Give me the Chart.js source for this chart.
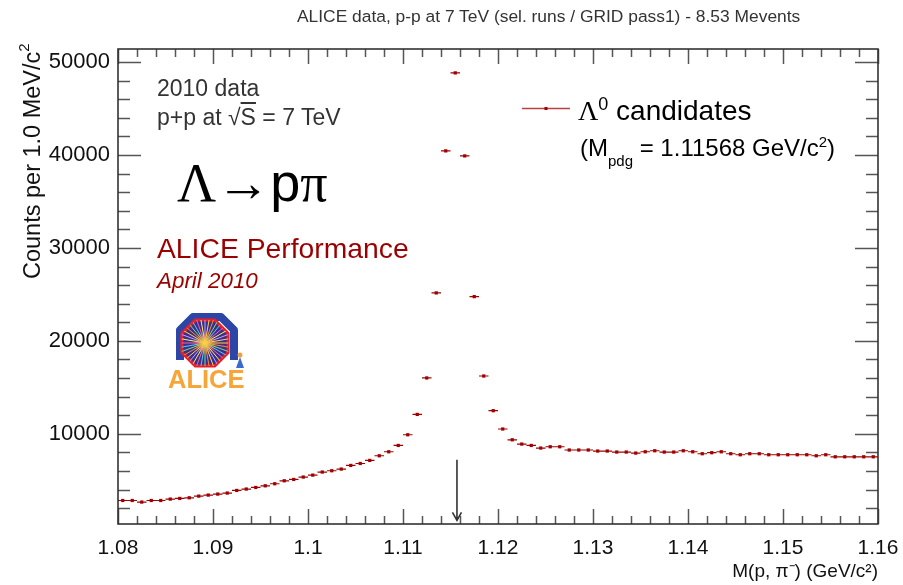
<!DOCTYPE html>
<html><head><meta charset="utf-8">
<script src="https://cdn.jsdelivr.net/npm/chart.js@4.4.1/dist/chart.umd.min.js"></script>
<style>
html,body{margin:0;padding:0;background:#fff;}
#wrap{position:relative;width:903px;height:585px;overflow:hidden;font-family:"Liberation Sans",Arial,sans-serif;}
#c{position:absolute;left:0;top:0;}
.t{position:absolute;white-space:nowrap;line-height:1;}
.ser{font-family:"Liberation Serif","DejaVu Serif",serif;}
sup,sub{line-height:0;}
</style></head><body>
<div id="wrap">
<canvas id="c" width="903" height="585"></canvas>
<div class="t" style="left:297px;top:8px;font-size:17.4px;color:#333">ALICE data, p-p at 7 TeV (sel. runs / GRID pass1) - 8.53 Mevents</div>
<div class="t" style="left:21px;top:279px;font-size:23.5px;color:#111;transform-origin:left top;transform:rotate(-90deg)">Counts per 1.0 MeV/c<sup style="font-size:15px;position:relative;top:-2px">2</sup></div>
<div class="t" style="left:157px;top:77px;font-size:23px;color:#333">2010 data</div>
<div class="t" style="left:157px;top:106px;font-size:23px;color:#333">p+p at √<span style="text-decoration:overline">S</span> = 7 TeV</div>
<div class="t" style="left:177px;top:155px;font-size:54px;color:#000"><span class="ser">Λ→</span>p<span class="ser">π</span></div>
<div class="t" style="left:157px;top:234px;font-size:28.3px;color:#9b0000">ALICE Performance</div>
<div class="t" style="left:157px;top:270px;font-size:22.4px;color:#9b0000;font-style:italic">April 2010</div>
<div class="t" style="left:168px;top:367px;font-size:25.5px;color:#f7a539;font-weight:bold">ALICE</div>
<div class="t" style="left:578px;top:97px;font-size:28px;color:#000"><span class="ser">Λ</span><sup style="font-size:18px">0</sup> candidates</div>
<div class="t" style="left:580px;top:136px;font-size:24px;color:#000">(M<sub style="font-size:15px;position:relative;top:10px;vertical-align:baseline">pdg</sub> = 1.11568 GeV/c<sup style="font-size:15px">2</sup>)</div>
</div>
<script>
// ---- data ----
const massBins = [
 1.0805,1.0815,1.0825,1.0835,1.0845,1.0855,1.0865,1.0875,1.0885,1.0895,
 1.0905,1.0915,1.0925,1.0935,1.0945,1.0955,1.0965,1.0975,1.0985,1.0995,
 1.1005,1.1015,1.1025,1.1035,1.1045,1.1055,1.1065,1.1075,1.1085,1.1095,
 1.1105,1.1115,1.1125,1.1135,1.1145,1.1155,1.1165,1.1175,1.1185,1.1195,
 1.1205,1.1215,1.1225,1.1235,1.1245,1.1255,1.1265,1.1275,1.1285,1.1295,
 1.1305,1.1315,1.1325,1.1335,1.1345,1.1355,1.1365,1.1375,1.1385,1.1395,
 1.1405,1.1415,1.1425,1.1435,1.1445,1.1455,1.1465,1.1475,1.1485,1.1495,
 1.1505,1.1515,1.1525,1.1535,1.1545,1.1555,1.1565,1.1575,1.1585,1.1595
];
const counts = [
 2830,2830,2660,2830,2830,2980,3050,3120,3300,3410,
 3520,3630,3910,4060,4230,4410,4630,4950,5090,5350,
 5560,5890,6030,6210,6600,6810,7140,7640,8070,8750,
 9900,12090,16010,25160,40440,48830,39900,24760,16220,12490,
 10520,9360,8900,8750,8470,8610,8610,8260,8260,8260,
 8150,8150,8040,8040,7930,8070,8180,8040,8040,8180,
 8070,7860,7970,8070,7860,7750,7860,7860,7750,7750,
 7750,7750,7750,7640,7750,7530,7530,7530,7530,7530
];
const binHalfWidth = 0.0005;
const pdgMass = 1.11568;
const arrowFrom = 7200, arrowTo = 700;
const xTickValues = [1.08,1.09,1.10,1.11,1.12,1.13,1.14,1.15,1.16];
const xTickLabels = ["1.08","1.09","1.1","1.11","1.12","1.13","1.14","1.15","1.16"];
const yTickValues = [10000,20000,30000,40000,50000];
const yTickLabels = ["10000","20000","30000","40000","50000"];
const xMin = 1.08, xMax = 1.16, yMin = 300, yMax = 51400;
const xMinorStep = 0.002, yMinorStep = 2000;

const RED = '#a00000';

const rootFrame = {
  id: 'rootFrame',
  beforeDatasetsDraw(chart) {
    const {ctx, chartArea: a, scales: {x, y}} = chart;
    ctx.save();
    ctx.strokeStyle = '#555';
    ctx.lineWidth = 1.5;
    ctx.beginPath();
    const nx = Math.round((xMax - xMin) / xMinorStep);
    for (let i = 0; i <= nx; i++) {
      const v = xMin + i * xMinorStep;
      const px = Math.round(x.getPixelForValue(v)) + 0.5;
      const major = xTickValues.some(t => Math.abs(t - v) < 1e-9);
      const len = major ? 15 : 8;
      ctx.moveTo(px, a.bottom); ctx.lineTo(px, a.bottom - len);
      ctx.moveTo(px, a.top); ctx.lineTo(px, a.top + len);
    }
    for (let v = yMinorStep; v <= yMax; v += yMinorStep) {
      if (v < yMin) continue;
      const py = Math.round(y.getPixelForValue(v)) + 0.5;
      const major = yTickValues.includes(v);
      const len = major ? 23 : 12;
      ctx.moveTo(a.left, py); ctx.lineTo(a.left + len, py);
      ctx.moveTo(a.right, py); ctx.lineTo(a.right - len, py);
    }
    ctx.stroke();
    ctx.strokeStyle = '#333';
    ctx.lineWidth = 1.6;
    ctx.strokeRect(a.left, a.top, a.right - a.left, a.bottom - a.top);
    ctx.restore();
  },
  afterDatasetsDraw(chart) {
    const {ctx, scales: {x, y}} = chart;
    ctx.save();
    ctx.strokeStyle = RED;
    ctx.lineWidth = 1.2;
    ctx.beginPath();
    massBins.forEach((m, i) => {
      const py = y.getPixelForValue(counts[i]);
      ctx.moveTo(x.getPixelForValue(m - binHalfWidth), py);
      ctx.lineTo(x.getPixelForValue(m + binHalfWidth), py);
    });
    ctx.stroke();
    const ax = x.getPixelForValue(pdgMass);
    const y1 = y.getPixelForValue(arrowFrom), y2 = y.getPixelForValue(arrowTo);
    ctx.strokeStyle = '#333';
    ctx.lineWidth = 1.6;
    ctx.beginPath();
    ctx.moveTo(ax, y1); ctx.lineTo(ax, y2);
    ctx.moveTo(ax - 4.5, y2 - 8); ctx.lineTo(ax, y2); ctx.lineTo(ax + 4.5, y2 - 8);
    ctx.stroke();
    ctx.strokeStyle = '#b84040';
    ctx.lineWidth = 1.5;
    ctx.beginPath(); ctx.moveTo(522, 108.5); ctx.lineTo(570, 108.5); ctx.stroke();
    ctx.fillStyle = RED; ctx.fillRect(544.5, 107, 3, 3);
    drawLogo(ctx);
    ctx.restore();
  }
};

function drawLogo(ctx) {
  const cx = 205, cy = 343;
  ctx.save();
  ctx.strokeStyle = '#2c46a8';
  ctx.lineWidth = 8;
  ctx.lineJoin = 'round';
  ctx.beginPath();
  ctx.moveTo(180, 360); ctx.lineTo(180, 330); ctx.lineTo(193, 317); ctx.lineTo(221, 317); ctx.lineTo(234, 330); ctx.lineTo(234, 360);
  ctx.stroke();
  const r = 25;
  ctx.beginPath();
  for (let k = 0; k < 8; k++) {
    const ang = Math.PI / 8 + k * Math.PI / 4;
    const px = cx + r * Math.cos(ang), py = cy + r * Math.sin(ang);
    if (k === 0) ctx.moveTo(px, py); else ctx.lineTo(px, py);
  }
  ctx.closePath();
  ctx.fillStyle = '#3a2f8f';
  ctx.fill();
  ctx.strokeStyle = '#e5202a';
  ctx.lineWidth = 3;
  ctx.stroke();
  ctx.clip();
  const cols = ['#ffd34d','#ff8a2a','#7de07a','#4fd4e8','#ff5fa0','#f5f56a','#c9a0ff'];
  ctx.lineWidth = 1;
  for (let k = 0; k < 36; k++) {
    const ang = k * Math.PI / 18;
    ctx.strokeStyle = cols[k % cols.length];
    ctx.beginPath(); ctx.moveTo(cx, cy); ctx.lineTo(cx + 30 * Math.cos(ang), cy + 30 * Math.sin(ang)); ctx.stroke();
  }
  const g = ctx.createRadialGradient(cx, cy, 0, cx, cy, 12);
  g.addColorStop(0, 'rgba(255,220,60,1)'); g.addColorStop(1, 'rgba(255,140,40,0)');
  ctx.fillStyle = g; ctx.beginPath(); ctx.arc(cx, cy, 12, 0, Math.PI * 2); ctx.fill();
  ctx.restore();
  ctx.save();
  ctx.fillStyle = '#f0a040'; ctx.beginPath(); ctx.arc(240, 355, 2.5, 0, Math.PI * 2); ctx.fill();
  ctx.fillStyle = '#3a6ad0'; ctx.beginPath(); ctx.moveTo(240, 357); ctx.lineTo(236, 368); ctx.lineTo(244, 368); ctx.closePath(); ctx.fill();
  ctx.restore();
}

const font = {family: '"Liberation Sans", Arial, sans-serif'};

new Chart(document.getElementById('c'), {
  type: 'scatter',
  data: {
    datasets: [{
      label: 'Λ0 candidates',
      data: massBins.map((m, i) => ({x: m, y: counts[i]})),
      pointStyle: 'rect',
      pointRadius: 2.3,
      pointBackgroundColor: RED,
      pointBorderWidth: 0,
      showLine: false
    }]
  },
  options: {
    responsive: false,
    animation: false,
    events: [],
    layout: {padding: {left: 0, top: 49, right: 25, bottom: 0}},
    plugins: {legend: {display: false}, tooltip: {enabled: false}},
    scales: {
      x: {
        type: 'linear', min: xMin, max: xMax,
        grid: {display: false, drawTicks: false}, border: {display: false},
        afterBuildTicks: s => { s.ticks = xTickValues.map(v => ({value: v})); },
        afterFit: s => { s.height = 61; s.paddingLeft = 0; s.paddingRight = 0; },
        ticks: {
          padding: 12, color: '#111', maxRotation: 0, autoSkip: false,
          font: {...font, size: 21},
          callback: (v) => { const i = xTickValues.findIndex(t => Math.abs(t - v) < 1e-9); return i >= 0 ? xTickLabels[i] : ''; }
        },
        title: {display: true, align: 'end', text: 'M(p, π⁻) (GeV/c²)', color: '#111', font: {...font, size: 19}, padding: {top: 0, bottom: 2}}
      },
      y: {
        type: 'linear', min: yMin, max: yMax,
        grid: {display: false, drawTicks: false}, border: {display: false},
        afterBuildTicks: s => { s.ticks = yTickValues.map(v => ({value: v})); },
        afterFit: s => { s.width = 118; s.paddingTop = 0; s.paddingBottom = 0; },
        ticks: {
          padding: 8, color: '#111', autoSkip: false,
          font: {...font, size: 22},
          callback: (v) => { const i = yTickValues.indexOf(v); return i >= 0 ? yTickLabels[i] : ''; }
        }
      }
    }
  },
  plugins: [rootFrame]
});
</script>
</body></html>
